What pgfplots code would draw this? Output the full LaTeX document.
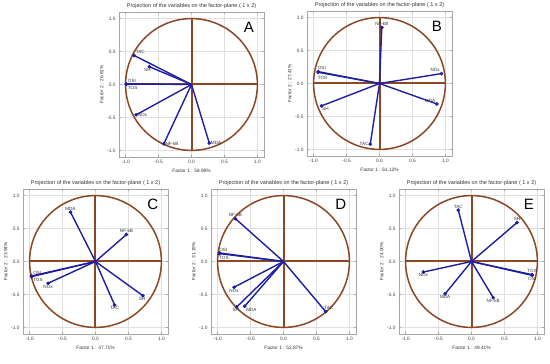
\documentclass[border=0pt]{standalone}
\usepackage{fontspec}
\setmainfont{Liberation Sans}
\usepackage{pgfplots}
\pgfplotsset{compat=1.18}
\definecolor{circbrown}{RGB}{140,72,36}
\definecolor{vecblue}{RGB}{30,30,165}
\tikzset{
  lab/.style={font=\fontsize{4.6}{5}\selectfont, text=black!80, inner sep=1pt},
  vec/.style={vecblue, line width=1.4pt, mark=*, mark size=1pt, mark options={fill=vecblue, draw=vecblue}},
}
\pgfplotsset{
  pca/.style={
    width=145pt, height=145pt, scale only axis,
    xmin=-1.1, xmax=1.1, ymin=-1.1, ymax=1.1,
    xtick={-1,-0.5,0,0.5,1}, ytick={-1,-0.5,0,0.5,1},
    /pgf/number format/.cd, fixed, fixed zerofill, precision=1, assume math mode=true, /pgfplots/.cd,
    tick label style={font=\fontsize{4.8}{5}\selectfont, text=black!75},
    label style={font=\fontsize{4.8}{5}\selectfont, text=black!80},
    title style={font=\fontsize{5.5}{6}\selectfont, text=black!80, yshift=-6.5pt},
    title={Projection of the variables on the factor-plane ( 1 x 2)},
    grid=major, grid style={gray!25, line width=0.4pt},
    axis line style={gray!70, line width=0.5pt},
    major tick length=2pt, tick style={gray!70},
    xlabel style={yshift=1.5pt}, ylabel style={yshift=-3pt},
    clip=false,
  },
}
\newcommand{\basis}[1]{%
  \addplot[circbrown, line width=2pt, mark=none] coordinates {(-1,0) (1,0)};
  \addplot[circbrown, line width=2pt, mark=none] coordinates {(0,-1) (0,1)};
  \draw[circbrown, line width=1.5pt] (axis cs:0,0) circle[radius=1];
  \node[font=\fontsize{15}{15}\selectfont] at (axis cs:0.87,0.87) {#1};
}
\newcommand{\vect}[4]{\addplot[vec, mark indices={2}] coordinates {(0,0) (#1,#2)} node[pos=1,lab,#3] {#4};}
\begin{document}
\begin{tikzpicture}
\useasboundingbox (0,0) rectangle (550pt,364pt);
% A
\begin{axis}[pca, at={(119pt,207pt)}, anchor=south west,
  xlabel={Factor 1 : 58.99\%}, ylabel={Factor 2 : 26.81\%}]
\basis{A}
\vect{-0.87}{0.44}{anchor=south west}{TAC}
\vect{-0.64}{0.27}{anchor=north east, xshift=3pt}{SH}
\vect{-0.99}{0.01}{anchor=south west}{OSI}
\vect{-0.99}{0.0}{anchor=north west}{TOS}
\vect{-0.84}{-0.46}{anchor=west}{NOx}
\vect{-0.42}{-0.90}{anchor=west}{NF-kB}
\vect{0.27}{-0.89}{anchor=west}{MDA}
\end{axis}
% B
\begin{axis}[pca, at={(307pt,208pt)}, anchor=south west,
  xlabel={Factor 1 : 61.12\%}, ylabel={Factor 2 : 27.41\%}]
\basis{B}
\vect{0.035}{0.85}{anchor=south}{NF-kB}
\vect{0.94}{0.15}{anchor=south east}{NOx}
\vect{0.87}{-0.31}{anchor=south east}{MDA}
\vect{-0.93}{0.18}{anchor=south west, xshift=-2pt}{OSI}
\vect{-0.93}{0.17}{anchor=north west, xshift=-2pt, yshift=-2pt}{TOS}
\vect{-0.88}{-0.34}{anchor=north west, xshift=-1pt}{SH}
\vect{-0.14}{-0.92}{anchor=east}{TAC}
\end{axis}
% C
\begin{axis}[pca, at={(23pt,30pt)}, anchor=south west,
  xlabel={Factor 1 : 47.71\%}, ylabel={Factor 2 : 23.94\%}]
\basis{C}
\vect{-0.38}{0.75}{anchor=south}{MDA}
\vect{0.47}{0.41}{anchor=south}{NF-kB}
\vect{-0.97}{-0.22}{anchor=south west}{OSI}
\vect{-0.97}{-0.23}{anchor=north west}{TOS}
\vect{-0.72}{-0.33}{anchor=north}{NOx}
\vect{0.29}{-0.66}{anchor=north}{TAC}
\vect{0.72}{-0.52}{anchor=north, xshift=-1pt}{SH}
\end{axis}
% D
\begin{axis}[pca, at={(211pt,30pt)}, anchor=south west,
  xlabel={Factor 1 : 52.87\%}, ylabel={Factor 2 : 31.19\%}]
\basis{D}
\vect{-0.73}{0.65}{anchor=south}{NF-kB}
\vect{-0.97}{0.13}{anchor=south west, xshift=-2pt}{OSI}
\vect{-0.97}{0.12}{anchor=north west, xshift=-2pt, yshift=-1pt}{TOS}
\vect{-0.75}{-0.39}{anchor=north}{NOx}
\vect{-0.71}{-0.69}{anchor=north, xshift=-1pt}{SH}
\vect{-0.59}{-0.68}{anchor=north west}{MDA}
\vect{0.64}{-0.76}{anchor=south west, xshift=-3pt}{TAC}
\end{axis}
% E
\begin{axis}[pca, at={(399pt,30pt)}, anchor=south west,
  xlabel={Factor 1 : 49.41\%}, ylabel={Factor 2 : 24.00\%}]
\basis{E}
\vect{-0.20}{0.78}{anchor=south}{TAC}
\vect{0.69}{0.59}{anchor=south}{SH}
\vect{0.92}{-0.20}{anchor=south}{TOS}
\vect{0.92}{-0.21}{anchor=north}{OSI}
\vect{-0.73}{-0.16}{anchor=north}{NOx}
\vect{-0.40}{-0.49}{anchor=north}{MDA}
\vect{0.33}{-0.55}{anchor=north}{NF-kB}
\end{axis}
\end{tikzpicture}
\end{document}
